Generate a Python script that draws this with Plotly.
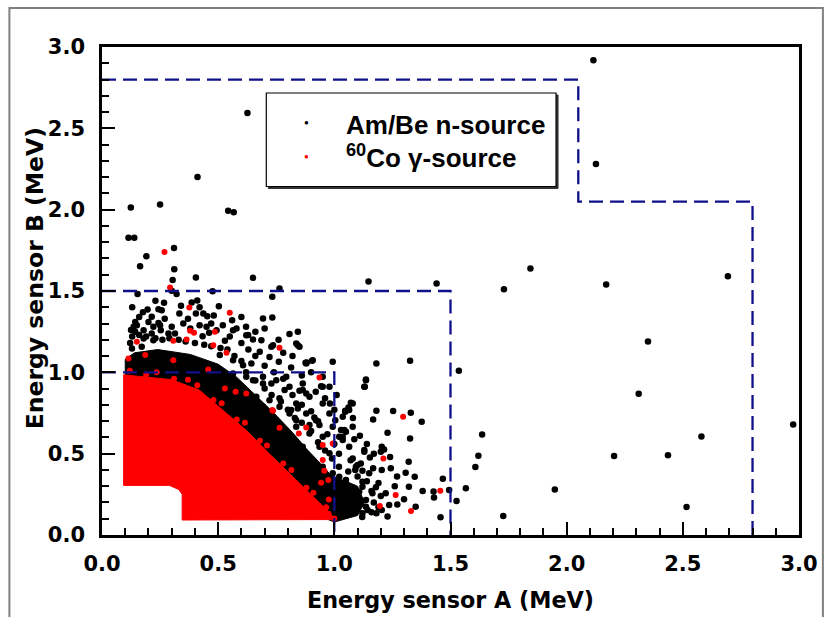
import plotly.graph_objects as go

# ---------------- data (MeV) ----------------
# Am/Be n-source: individually resolved events
amb_x = [0.626, 0.411, 2.115, 2.126, 0.124, 0.25, 0.543, 0.567, 0.114, 0.139, 0.31, 0.191, 0.164, 0.311,
         0.304, 0.404, 0.65, 1.147, 1.44, 1.73, 1.844, 2.17, 2.694, 2.35, 1.536, 2.31, 2.975, 1.636, 2.58,
         1.62, 2.204, 2.436, 1.607, 1.467, 1.494, 1.566, 1.949, 1.526, 1.727, 2.516,
         0.3, 0.321, 0.153, 0.476, 0.764, 0.733, 0.386, 0.41, 0.503, 0.196, 0.243, 0.257,
         0.176, 0.267, 0.214, 0.243, 0.221, 0.333, 0.404, 0.436, 0.453, 0.481, 0.143, 0.136, 0.143, 0.179,
         0.179, 0.214, 0.221, 0.253, 0.286, 0.314, 0.433, 0.461, 0.493, 0.529, 0.564, 0.579, 0.121, 0.129,
         0.171, 0.693, 0.733, 0.807, 0.843, 0.621, 0.65, 0.686, 0.843, 0.85, 0.729, 0.721, 0.761, 0.814,
         0.876, 0.904, 0.993, 0.95, 0.943, 0.979, 0.864, 0.807, 0.793, 0.75, 0.693, 0.65, 0.621, 0.564,
         0.893, 0.836, 0.95, 0.979, 0.921, 0.879, 0.807, 0.764, 0.721, 0.693, 0.664, 0.75, 0.836, 0.893,
         0.95, 0.993, 0.936, 0.864, 0.807, 0.979, 0.893, 0.95, 0.993, 0.921, 0.964, 1.136, 1.129, 1.079,
         1.064, 1.079, 1.036, 1.064, 1.129, 1.093, 1.05, 1.021, 1.121, 1.064, 1.093, 1.136, 1.036, 1.007,
         0.879, 0.907, 1.181, 1.326, 1.136, 1.131, 0.981, 1.071, 1.061, 1.047, 1.036, 1.004, 1.181, 1.167,
         1.253, 1.329, 1.376, 1.229, 1.326, 1.029, 1.05, 1.086, 1.036, 1.204, 1.214, 1.2, 1.129, 1.153,
         1.079, 1.114, 1.09, 1.121, 1.167, 1.204, 1.243, 1.307, 1.346, 1.457, 1.427, 1.429, 1.35, 1.321,
         1.271, 1.236, 1.181, 1.229, 1.204, 1.143, 1.121, 1.079, 1.1, 1.136, 1.164, 1.107, 1.036, 1.021,
         1.05, 1.179, 1.221, 1.121, 1.021,
         0.629, 0.736, 0.836, 0.679, 0.881, 0.507, 0.564, 0.607, 0.643, 0.864, 0.85, 0.879, 0.95, 0.786,
         0.764, 0.693, 0.729, 0.814, 0.843, 0.914, 0.893, 0.936, 0.836, 1.047, 1.043, 1.021,
         0.13, 0.16, 0.19, 0.23, 0.26, 0.29, 0.33, 0.36, 0.40, 0.44, 0.47, 0.51, 0.54, 0.57, 0.60, 0.62,
         0.66, 0.70, 0.73, 0.77, 0.80, 0.83, 0.86, 0.90, 0.93, 0.96, 0.99, 1.02, 1.06, 1.10, 1.14, 1.16,
         1.17, 1.16, 1.12,
         0.125, 0.15, 0.20, 0.25, 0.30, 0.35, 0.38, 0.42, 0.47, 0.52, 0.55, 0.60, 0.63, 0.66, 0.70, 0.74,
         0.78, 0.82, 0.86, 0.90, 0.93, 0.97, 1.00, 1.02, 1.07, 1.10, 1.15, 1.19, 1.20, 1.19,
         0.16, 0.27, 0.37, 0.45, 0.34, 0.23, 0.13, 0.42, 0.56, 0.62, 0.60, 0.66, 0.70, 0.76, 0.78, 0.82,
         0.86, 0.90, 0.92, 0.96, 1.00, 1.01, 1.08, 1.11, 1.14, 1.17, 1.24, 1.27, 1.26, 1.30, 1.32, 1.38]
amb_y = [2.594, 2.201, 2.918, 2.281, 2.013, 2.031, 1.994, 1.984, 1.828, 1.828, 1.765, 1.714, 1.652, 1.634,
         1.568, 1.583, 1.581, 1.558, 1.546, 1.51, 1.638, 1.54, 1.59, 1.19, 1.009, 0.868, 0.68, 0.618, 0.606,
         0.487, 0.485, 0.49, 0.418, 0.346, 0.276, 0.287, 0.28, 0.209, 0.117, 0.172,
         1.501, 1.481, 1.481, 1.499, 1.515, 1.464, 1.429, 1.441, 1.407, 1.386, 1.388, 1.382,
         1.37, 1.427, 1.341, 1.304, 1.28, 1.362, 1.362, 1.362, 1.345, 1.349, 1.31, 1.28, 1.249, 1.259,
         1.208, 1.239, 1.198, 1.259, 1.239, 1.239, 1.222, 1.243, 1.259, 1.194, 1.259, 1.269, 1.181, 1.147,
         1.157, 1.331, 1.337, 1.235, 1.249, 1.228, 1.202, 1.198, 1.167, 1.157, 1.157, 1.095, 1.065, 1.03,
         1.059, 1.071, 1.065, 0.973, 0.915, 0.911, 0.891, 0.911, 0.973, 0.952, 0.932, 0.952, 0.973, 0.993,
         0.85, 0.809, 0.809, 0.747, 0.706, 0.747, 0.747, 0.788, 0.829, 0.788, 0.85, 0.706, 0.665, 0.624,
         0.604, 0.665, 0.543, 0.543, 0.583, 0.502, 0.461, 0.42, 0.379, 0.358, 0.297, 0.952, 0.911, 0.809,
         0.768, 0.665, 0.604, 0.543, 0.522, 0.42, 0.338, 0.297, 0.297, 0.235, 0.154, 0.174, 0.174, 0.235,
         1.054, 1.075, 1.054, 1.071, 0.956, 0.911, 0.809, 0.813, 0.784, 0.758, 0.727, 0.706, 0.764, 0.71,
         0.762, 0.751, 0.696, 0.629, 0.594, 0.645, 0.635, 0.588, 0.584, 0.543, 0.526, 0.512, 0.512, 0.477,
         0.471, 0.44, 0.399, 0.395, 0.41, 0.399, 0.41, 0.383, 0.358, 0.109, 0.268, 0.231, 0.174, 0.297,
         0.188, 0.184, 0.133, 0.113, 0.154, 0.154, 0.133, 0.143, 0.174, 0.215, 0.256, 0.266, 0.276, 0.133,
         0.317, 0.293, 0.256, 0.328, 0.358,
         1.229, 1.167, 1.177, 1.126, 1.061, 1.106, 1.075, 1.044, 1.054, 0.932, 0.887, 0.87, 0.911, 0.891,
         0.84, 0.973, 0.932, 0.768, 0.778, 0.723, 0.676, 0.676, 0.706, 0.764, 0.645, 0.604,
         1.22, 1.23, 1.22, 1.21, 1.20, 1.21, 1.20, 1.19, 1.18, 1.17, 1.16, 1.15, 1.14, 1.10, 1.07, 1.00,
         0.95, 0.90, 0.86, 0.82, 0.77, 0.72, 0.69, 0.64, 0.57, 0.52, 0.47, 0.42, 0.39, 0.36, 0.33, 0.27,
         0.20, 0.14, 0.11,
         1.26, 1.29, 1.31, 1.29, 1.28, 1.30, 1.27, 1.29, 1.30, 1.29, 1.22, 1.18, 1.14, 1.10, 1.04, 1.00,
         0.96, 0.86, 0.80, 0.76, 0.70, 0.62, 0.56, 0.50, 0.46, 0.43, 0.38, 0.32, 0.24, 0.17,
         1.34, 1.33, 1.33, 1.28, 1.41, 1.44, 1.40, 1.40, 1.32, 1.28, 1.34, 1.25, 1.27, 1.20, 1.12, 1.10,
         0.98, 1.00, 0.88, 0.84, 0.77, 0.86, 0.72, 0.61, 0.56, 0.50, 0.48, 0.36, 0.30, 0.22, 0.45, 0.27]

# Am/Be n-source: outline of the saturated (fully overlapping) event band; its lower part is hidden
# beneath the gamma cloud
amb_core_x = [0.10, 0.10, 0.14, 0.24, 0.38, 0.50, 0.58, 0.66, 0.74, 0.82, 0.88, 0.94, 0.99, 1.05, 1.10,
              1.13, 1.10, 1.00, 0.93, 0.85, 0.75, 0.65, 0.55, 0.45, 0.35, 0.25, 0.10]
amb_core_y = [0.93, 1.08, 1.12, 1.14, 1.11, 1.05, 0.97, 0.86, 0.75, 0.63, 0.53, 0.44, 0.36, 0.33, 0.30,
              0.20, 0.12, 0.08, 0.12, 0.22, 0.38, 0.53, 0.66, 0.78, 0.88, 0.92, 0.93]

# 60Co gamma-source: individually resolved events
co_x = [0.293, 0.376, 0.55, 0.269, 0.15, 0.307, 0.364, 0.379, 0.396, 0.486, 0.479, 0.536, 0.186, 0.114,
        0.307, 0.457, 0.764, 0.936, 0.621, 0.575, 0.529, 0.736, 0.764, 0.879, 0.847, 0.95, 0.993, 0.733,
        0.95, 0.957, 0.974, 0.943, 0.976, 1.0, 1.296, 1.211, 1.264, 1.196, 1.33, 1.456,
        0.12, 0.19, 0.235, 0.31, 0.37, 0.41, 0.48, 0.515, 0.58, 0.615, 0.68, 0.71, 0.78, 0.815, 0.88, 0.91,
        0.965, 0.975]
co_y = [1.521, 1.398, 1.366, 1.74, 1.188, 1.194, 1.202, 1.255, 1.243, 1.249, 1.167, 1.12, 1.106, 1.085,
        1.075, 1.018, 1.151, 0.968, 0.87, 0.88, 0.901, 0.764, 0.659, 0.661, 0.624, 0.553, 0.563, 0.768,
        0.461, 0.395, 0.338, 0.321, 0.219, 0.102, 0.727, 0.471, 0.246, 0.178, 0.147, 0.272,
        1.01, 0.985, 1.0, 0.96, 0.955, 0.92, 0.83, 0.81, 0.71, 0.69, 0.58, 0.55, 0.44, 0.40, 0.29, 0.26,
        0.17, 0.13]

# 60Co gamma-source: outline of the saturated event cloud
co_core_x = [0.093, 0.093, 0.16, 0.30, 0.42, 0.52, 0.62, 0.72, 0.82, 0.92, 0.985, 1.0, 0.345, 0.345,
             0.33, 0.29, 0.093]
co_core_y = [0.305, 0.985, 0.975, 0.955, 0.89, 0.77, 0.645, 0.50, 0.36, 0.215, 0.13, 0.095, 0.092, 0.25,
             0.28, 0.305, 0.305]

# selection windows (dashed)
win1_x = [0.0, 1.0, 1.0]
win1_y = [1.0, 1.0, 0.0]
win2_x = [0.0, 1.5, 1.5]
win2_y = [1.5, 1.5, 0.0]
win3_x = [0.0, 2.05, 2.05, 2.8, 2.8]
win3_y = [2.8, 2.8, 2.05, 2.05, 0.0]

x_ticks = [0.0, 0.5, 1.0, 1.5, 2.0, 2.5, 3.0]
y_ticks = [0.0, 0.5, 1.0, 1.5, 2.0, 2.5, 3.0]

# ---------------- figure ----------------
AXFONT = "DejaVu Sans, Liberation Sans, sans-serif"
LGFONT = "Liberation Sans, Arial, sans-serif"
NAVY = "#10108a"
RED = "#ff0000"

fig = go.Figure()

fig.add_trace(go.Scatter(x=amb_core_x, y=amb_core_y, mode="lines", fill="toself",
                         fillcolor="black", line=dict(color="black", width=1), showlegend=False,
                         hoverinfo="skip"))
fig.add_trace(go.Scatter(x=amb_x, y=amb_y, mode="markers",
                         marker=dict(color="black", size=6.5, line=dict(width=0)), showlegend=False))
fig.add_trace(go.Scatter(x=co_core_x, y=co_core_y, mode="lines", fill="toself",
                         fillcolor=RED, line=dict(color=RED, width=1), showlegend=False,
                         hoverinfo="skip"))
fig.add_trace(go.Scatter(x=co_x, y=co_y, mode="markers",
                         marker=dict(color=RED, size=6, line=dict(width=0)), showlegend=False))

for wx, wy in [(win1_x, win1_y), (win2_x, win2_y), (win3_x, win3_y)]:
    fig.add_trace(go.Scatter(x=wx, y=wy, mode="lines",
                             line=dict(color=NAVY, width=2.3, dash="14px,7px"),
                             showlegend=False, hoverinfo="skip", cliponaxis=False))

axis_common = dict(
    showline=True, linecolor="black", linewidth=2.5, mirror=True,
    ticks="inside", ticklen=13, tickwidth=2, tickcolor="black",
    showgrid=False, zeroline=False, tickformat=".1f",
    tickfont=dict(family=AXFONT, size=21, color="black", weight="bold"),
    minor=dict(ticks="inside", ticklen=7, tickwidth=1.5, tickcolor="black", dtick=0.1, showgrid=False),
)

fig.update_xaxes(range=[0, 3], tickvals=x_ticks, ticklabelstandoff=8, **axis_common)
fig.update_yaxes(range=[0, 3], tickvals=y_ticks, ticklabelstandoff=10, **axis_common)

L, R, T, B = 102, 28, 47, 82
W, H = 830, 617
pw, ph = W - L - R, H - T - B


def px(xp):
    return (xp - L) / pw


def py(yp):
    return (H - B - yp) / ph


shapes = [
    # outer frame of the picture
    dict(type="rect", xref="paper", yref="paper", x0=px(9), x1=px(826), y0=py(660), y1=py(8),
         line=dict(color="#808080", width=2), fillcolor="rgba(0,0,0,0)", layer="above"),
    # legend shadow + box
    dict(type="rect", xref="paper", yref="paper", x0=px(269), x1=px(560), y0=py(188.5), y1=py(95),
         line=dict(color="#333333", width=1), fillcolor="#333333", layer="above"),
    dict(type="rect", xref="paper", yref="paper", x0=px(267), x1=px(558), y0=py(186.5), y1=py(93),
         line=dict(color="black", width=1.2), fillcolor="white", layer="above"),
]

annotations = [
    dict(text="<b>Energy sensor A (MeV)</b>", xref="paper", yref="paper", x=0.5, y=py(600),
         xanchor="center", yanchor="middle", showarrow=False,
         font=dict(family=AXFONT, size=22.3, color="black")),
    dict(text="<b>Energy sensor B (MeV)</b>", xref="paper", yref="paper", x=px(35), y=py(278),
         xanchor="center", yanchor="middle", showarrow=False, textangle=-90,
         font=dict(family=AXFONT, size=23.5, color="black")),
    dict(text="●", xref="paper", yref="paper", x=px(307.7), y=py(122.5), xanchor="center",
         yanchor="middle", showarrow=False, font=dict(family=LGFONT, size=8, color="black")),
    dict(text="●", xref="paper", yref="paper", x=px(307.7), y=py(156), xanchor="center",
         yanchor="middle", showarrow=False, font=dict(family=LGFONT, size=8, color=RED)),
    dict(text="<b>Am/Be n-source</b>", xref="paper", yref="paper", x=px(345), y=py(125),
         xanchor="left", yanchor="middle", showarrow=False,
         font=dict(family=LGFONT, size=26, color="black")),
    dict(text="<b><sup>60</sup>Co γ-source</b>", xref="paper", yref="paper", x=px(345), y=py(156),
         xanchor="left", yanchor="middle", showarrow=False,
         font=dict(family=LGFONT, size=26, color="black")),
]

fig.update_layout(
    width=W, height=H,
    margin=dict(l=L, r=R, t=T, b=B),
    plot_bgcolor="white", paper_bgcolor="white",
    shapes=shapes, annotations=annotations,
    showlegend=False,
    font=dict(family=LGFONT, color="black"),
)

fig.write_html("out.html")
